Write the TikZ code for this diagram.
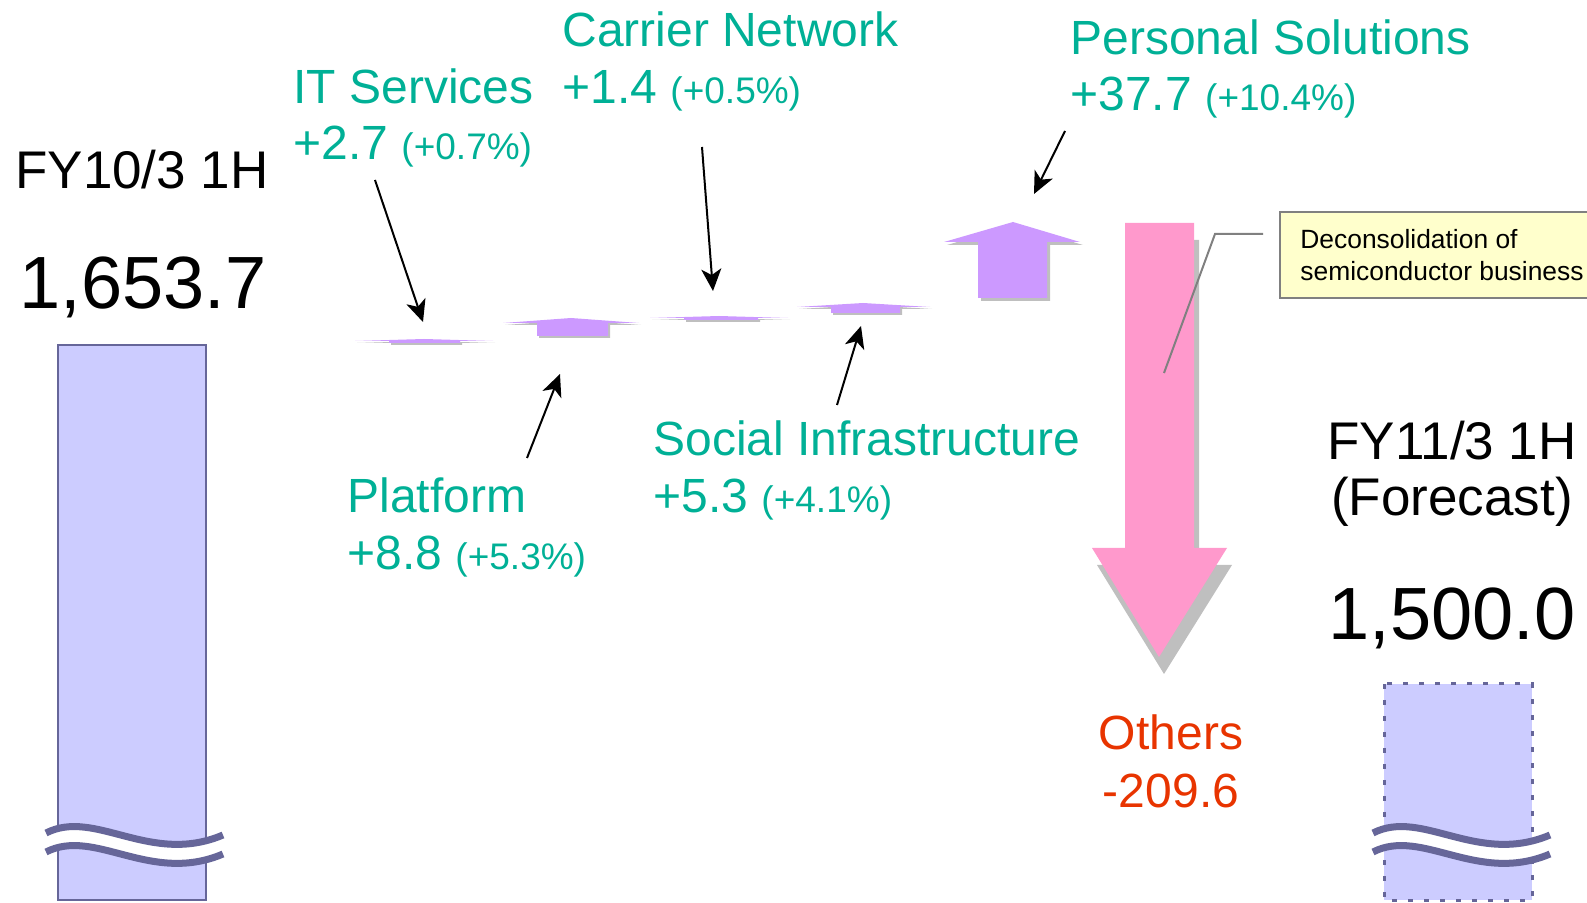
\documentclass[tikz,border=0pt]{standalone}
\usepackage{fontspec}
\setmainfont{Liberation Sans}
\usetikzlibrary{arrows.meta}

\definecolor{segteal}{RGB}{0,176,150}
\definecolor{othersred}{RGB}{232,52,0}
\definecolor{gainpurple}{RGB}{204,153,255}
\definecolor{losspink}{RGB}{255,153,204}
\definecolor{shadowgray}{RGB}{191,191,191}
\definecolor{barfill}{RGB}{204,204,255}
\definecolor{barline}{RGB}{102,102,153}
\definecolor{notefill}{RGB}{255,255,204}
\definecolor{notegray}{RGB}{128,128,128}

\newcommand{\pct}[1]{{\fontsize{18.5}{22}\selectfont #1}}

\tikzset{
  seglabel/.style={text=segteal, font=\fontsize{24}{28}\selectfont, inner sep=0pt, anchor=base west},
  yearlabel/.style={font=\fontsize{26.5}{28}\selectfont, inner sep=0pt, anchor=base},
  totallabel/.style={font=\fontsize{37}{40}\selectfont, inner sep=0pt, anchor=base},
  pointer/.style={-{Stealth[length=11pt,width=10pt,inset=3pt]}, line width=1pt},
  notebox/.style={draw=notegray, fill=notefill, line width=1pt, align=left,
    font=\fontsize{13.2}{16}\selectfont, minimum width=162pt, minimum height=43pt,
    inner sep=0pt, anchor=north west},
}

\begin{document}
\begin{tikzpicture}[x=0.5pt,y=-0.5pt]
  \useasboundingbox (0,0) rectangle (1587,903);

  % Bars
  \draw[fill=barfill, draw=barline, line width=1pt] (58,345) rectangle (206,900);
  \draw[fill=barfill, draw=barline, line width=1.5pt, dash pattern=on 2.5pt off 5.5pt]
    (1384,684) rectangle (1532,900);

  % Break marks
  \foreach \dx in {0,1327}
  {
    \begin{scope}[shift={(\dx,0)}]
      \fill[white] (46,833) .. controls (95,808) and (150,866) .. (223,835)
        -- (223,854) .. controls (150,885) and (95,827) .. (46,852) -- cycle;
      \draw[barline, line width=3.5pt] (46,833) .. controls (95,808) and (150,866) .. (223,835);
      \draw[barline, line width=3.5pt] (46,852) .. controls (95,827) and (150,885) .. (223,854);
    \end{scope}
  }

  % Gain arrows
  \foreach \hl/\hr/\base/\tx/\ty/\sl/\sr/\bot/\sh in
    {355/493/341/424/339/389/460/343/2, 503/639/323/571/318/537/608/336/2,
     650/788/318/719/316/684/758/320/2, 797/930/307/863/303/831/900/313/2,
     944/1080/242/1013/222/978/1047/298/3}
  {
    \fill[shadowgray, shift={(\sh,\sh)}] (\sl,\bot) -- (\sl,\base) -- (\hl,\base) -- (\tx,\ty)
      -- (\hr,\base) -- (\sr,\base) -- (\sr,\bot) -- cycle;
    \fill[gainpurple] (\sl,\bot) -- (\sl,\base) -- (\hl,\base) -- (\tx,\ty)
      -- (\hr,\base) -- (\sr,\base) -- (\sr,\bot) -- cycle;
  }

  % Loss arrow
  \fill[shadowgray, shift={(5,17)}] (1125,223) -- (1194,223) -- (1194,548) -- (1227,548)
    -- (1159,657) -- (1092,548) -- (1125,548) -- cycle;
  \fill[losspink] (1125,223) -- (1194,223) -- (1194,548) -- (1227,548)
    -- (1159,657) -- (1092,548) -- (1125,548) -- cycle;

  % Totals
  \node[yearlabel] (fy10) at (142,189) {FY10/3 1H};
  \node[totallabel] (fy10val) at (143,309) {1,653.7};
  \node[yearlabel] (fy11) at (1452,460) {FY11/3 1H};
  \node[yearlabel] (fy11note) at (1452,516) {(Forecast)};
  \node[totallabel] (fy11val) at (1452,640) {1,500.0};

  % Segment labels
  \node[seglabel] (itname) at (293,104) {IT Services};
  \node[seglabel] (itval) at (293,160) {+2.7 \pct{(+0.7\%)}};
  \node[seglabel] (cnname) at (562,47) {Carrier Network};
  \node[seglabel] (cnval) at (562,104) {+1.4 \pct{(+0.5\%)}};
  \node[seglabel] (psname) at (1070,55) {Personal Solutions};
  \node[seglabel] (psval) at (1070,111) {+37.7 \pct{(+10.4\%)}};
  \node[seglabel] (pfname) at (347,513) {Platform};
  \node[seglabel] (pfval) at (347,570) {+8.8 \pct{(+5.3\%)}};
  \node[seglabel] (siname) at (653,456) {Social Infrastructure};
  \node[seglabel] (sival) at (653,513) {+5.3 \pct{(+4.1\%)}};
  \node[seglabel, text=othersred, anchor=base] (otname) at (1171,749) {Others};
  \node[seglabel, text=othersred, anchor=base] (otval) at (1171,807) {-209.6};

  % Pointers
  \coordinate (itfrom) at (375,180);
  \coordinate (itto) at (423,322);
  \coordinate (cnfrom) at (702,147);
  \coordinate (cnto) at (713,291);
  \coordinate (psfrom) at (1065,131);
  \coordinate (psto) at (1034,194);
  \coordinate (pffrom) at (527,458);
  \coordinate (pfto) at (560,374);
  \coordinate (sifrom) at (837,405);
  \coordinate (sito) at (861,326);
  \draw[pointer] (itfrom) -- (itto);
  \draw[pointer] (cnfrom) -- (cnto);
  \draw[pointer] (psfrom) -- (psto);
  \draw[pointer] (pffrom) -- (pfto);
  \draw[pointer] (sifrom) -- (sito);

  % Note
  \node[notebox] (note) at (1279,211) {Deconsolidation of\\semiconductor business};
  \coordinate (leadstart) at (1263,234);
  \coordinate (leadbend) at (1215,234);
  \coordinate (leadend) at (1164,373);
  \draw[notegray, line width=1pt] (leadstart) -- (leadbend) -- (leadend);
\end{tikzpicture}
\end{document}
